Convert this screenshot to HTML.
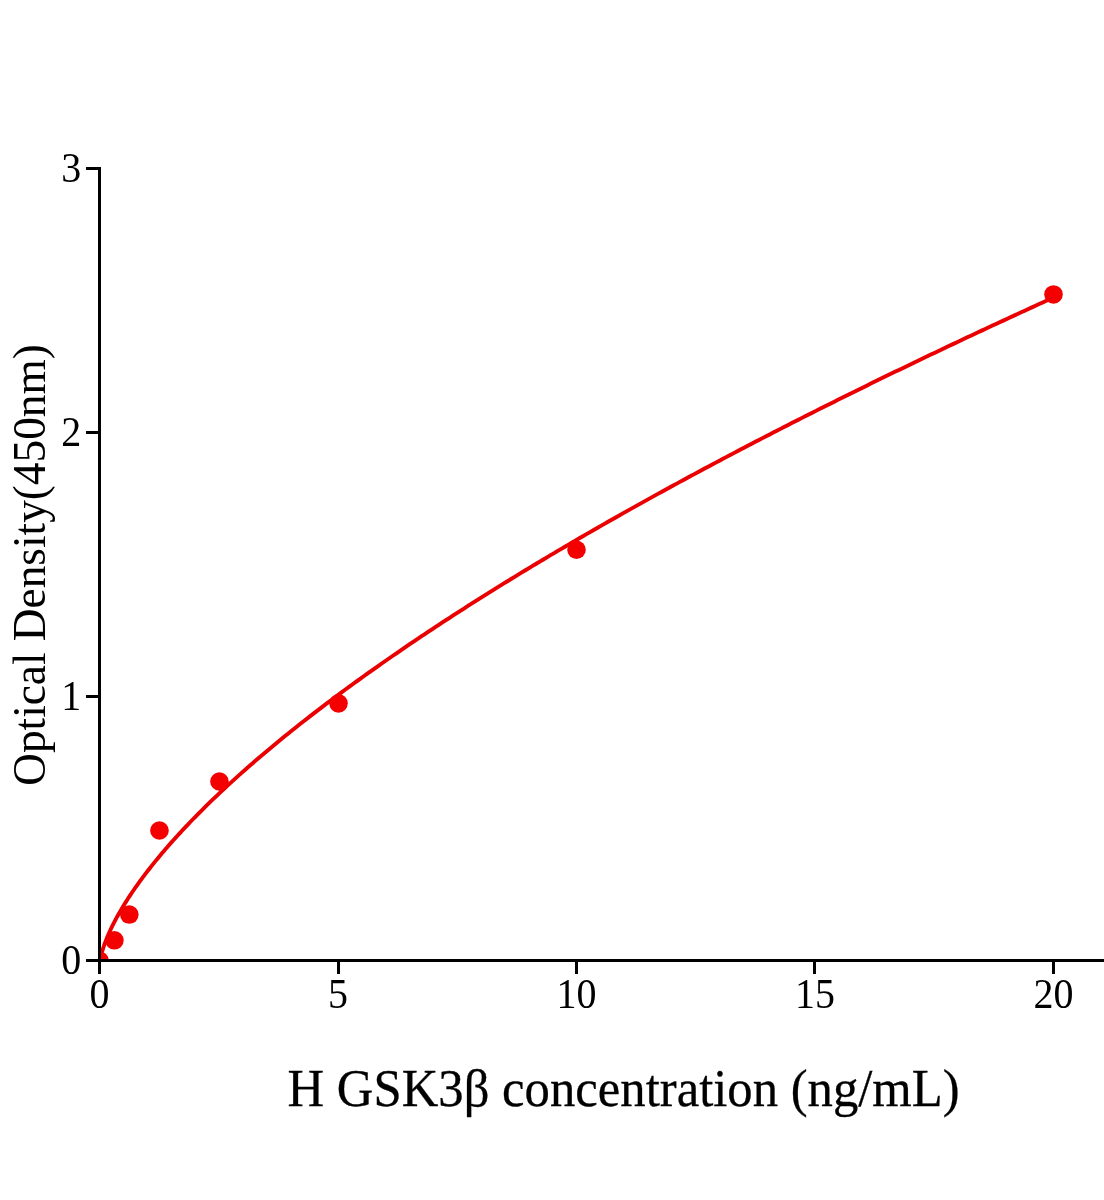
<!DOCTYPE html>
<html><head><meta charset="utf-8"><title>H GSK3β standard curve</title>
<style>
html,body{margin:0;padding:0;background:#fff;}
body{width:1104px;height:1200px;overflow:hidden;font-family:"Liberation Serif",serif;}
svg{display:block;will-change:transform;}
text{font-family:"Liberation Serif",serif;fill:#000;}
</style></head><body>
<svg width="1104" height="1200" viewBox="0 0 1104 1200">

<defs><clipPath id="plot"><rect x="99.5" y="0" width="1010" height="960.5"/></clipPath></defs>
<polyline clip-path="url(#plot)" fill="none" stroke="#ea0000" stroke-width="3.9" stroke-linejoin="round" stroke-linecap="butt" points="99.50,965.57 99.55,964.55 99.60,963.95 99.65,963.46 99.70,963.02 99.75,962.61 99.80,962.24 99.85,961.88 99.90,961.54 99.95,961.21 100.00,960.90 100.05,960.60 100.10,960.30 100.15,960.02 100.20,959.74 100.25,959.47 100.30,959.20 100.35,958.94 100.40,958.69 100.45,958.44 100.74,957.07 101.03,955.81 101.32,954.63 101.61,953.52 101.90,952.45 102.19,951.43 102.48,950.44 102.77,949.49 103.06,948.56 103.35,947.66 103.64,946.78 103.93,945.93 104.22,945.09 104.51,944.27 104.80,943.46 105.09,942.68 105.38,941.90 105.67,941.14 105.96,940.39 106.25,939.65 106.54,938.92 106.83,938.20 107.12,937.49 107.41,936.79 107.70,936.10 107.99,935.42 108.28,934.74 108.57,934.08 108.86,933.42 109.15,932.76 109.44,932.12 109.73,931.48 110.02,930.84 110.31,930.22 110.60,929.59 110.89,928.98 111.18,928.37 111.47,927.76 111.76,927.16 112.05,926.56 112.34,925.97 112.63,925.38 112.92,924.80 113.21,924.22 113.50,923.65 113.79,923.08 114.08,922.51 114.37,921.95 114.66,921.39 114.95,920.84 115.23,920.29 115.52,919.74 115.81,919.19 116.10,918.65 116.39,918.11 116.68,917.58 116.97,917.05 117.26,916.52 117.55,915.99 117.84,915.47 118.13,914.95 118.42,914.43 118.71,913.92 119.00,913.41 119.29,912.90 119.58,912.39 119.87,911.88 120.16,911.38 120.45,910.88 120.74,910.39 121.03,909.89 121.32,909.40 121.61,908.91 121.90,908.42 122.19,907.93 122.48,907.45 122.77,906.97 123.06,906.49 123.35,906.01 124.56,904.03 125.78,902.09 126.99,900.17 128.20,898.29 129.41,896.43 130.63,894.59 131.84,892.78 133.05,891.00 134.26,889.23 135.48,887.49 136.69,885.77 137.90,884.07 139.12,882.38 140.33,880.71 141.54,879.06 142.75,877.43 143.97,875.81 145.18,874.20 146.39,872.61 147.60,871.04 148.82,869.48 150.03,867.93 151.24,866.39 152.46,864.87 153.67,863.36 154.88,861.86 156.09,860.37 157.31,858.89 158.52,857.43 159.73,855.97 160.94,854.52 162.16,853.09 163.37,851.66 164.58,850.24 165.79,848.83 167.01,847.43 168.22,846.04 169.43,844.66 170.65,843.28 171.86,841.91 173.07,840.56 174.28,839.20 175.50,837.86 176.71,836.52 177.92,835.20 179.13,833.87 180.35,832.56 181.56,831.25 182.77,829.95 183.99,828.65 185.20,827.37 186.41,826.08 187.62,824.81 188.84,823.54 190.05,822.27 191.26,821.01 192.47,819.76 193.69,818.51 194.90,817.27 198.49,813.63 202.08,810.03 205.68,806.47 209.27,802.95 212.86,799.47 216.45,796.04 220.05,792.63 223.64,789.27 227.23,785.93 230.82,782.63 234.42,779.36 238.01,776.12 241.60,772.91 245.19,769.73 248.79,766.57 252.38,763.44 255.97,760.34 259.56,757.26 263.16,754.20 266.75,751.17 270.34,748.16 273.93,745.17 277.53,742.21 281.12,739.26 284.71,736.34 288.30,733.43 291.90,730.54 295.49,727.68 299.08,724.83 302.67,721.99 306.27,719.18 309.86,716.38 313.45,713.60 317.04,710.84 320.64,708.09 324.23,705.36 327.82,702.64 331.41,699.94 335.01,697.25 338.60,694.57 342.19,691.91 345.78,689.27 349.38,686.63 352.97,684.02 356.56,681.41 360.15,678.82 363.75,676.23 367.34,673.66 370.93,671.11 374.52,668.56 378.12,666.03 381.71,663.51 385.30,661.00 388.89,658.50 392.49,656.01 396.08,653.53 399.67,651.06 403.26,648.60 406.86,646.16 410.45,643.72 414.04,641.29 417.63,638.88 421.23,636.47 424.82,634.07 428.41,631.68 432.00,629.30 435.60,626.93 439.19,624.57 442.78,622.21 446.37,619.87 449.97,617.53 453.56,615.21 457.15,612.89 460.74,610.58 464.34,608.27 467.93,605.98 471.52,603.69 475.11,601.41 478.71,599.14 482.30,596.88 485.89,594.62 489.48,592.37 493.07,590.13 496.67,587.89 500.26,585.67 503.85,583.45 507.44,581.23 511.04,579.03 514.63,576.83 518.22,574.63 521.81,572.45 525.41,570.27 529.00,568.09 532.59,565.93 536.18,563.77 539.78,561.61 543.37,559.46 546.96,557.32 550.55,555.19 554.15,553.06 557.74,550.93 561.33,548.81 564.92,546.70 568.52,544.60 572.11,542.50 575.70,540.40 579.29,538.31 582.89,536.23 586.48,534.15 590.07,532.08 593.66,530.01 597.26,527.95 600.85,525.89 604.44,523.84 608.03,521.79 611.63,519.75 615.22,517.72 618.81,515.68 622.40,513.66 626.00,511.64 629.59,509.62 633.18,507.61 636.77,505.60 640.37,503.60 643.96,501.60 647.55,499.61 651.14,497.62 654.74,495.64 658.33,493.66 661.92,491.69 665.51,489.72 669.11,487.75 672.70,485.79 676.29,483.84 679.88,481.89 683.48,479.94 687.07,478.00 690.66,476.06 694.25,474.12 697.85,472.19 701.44,470.26 705.03,468.34 708.62,466.42 712.22,464.51 715.81,462.60 719.40,460.69 722.99,458.79 726.59,456.89 730.18,455.00 733.77,453.11 737.36,451.22 740.96,449.34 744.55,447.46 748.14,445.58 751.73,443.71 755.33,441.84 758.92,439.98 762.51,438.12 766.10,436.26 769.69,434.41 773.29,432.56 776.88,430.71 780.47,428.87 784.06,427.03 787.66,425.19 791.25,423.36 794.84,421.53 798.43,419.71 802.03,417.88 805.62,416.06 809.21,414.25 812.80,412.44 816.40,410.63 819.99,408.82 823.58,407.02 827.17,405.22 830.77,403.42 834.36,401.63 837.95,399.84 841.54,398.05 845.14,396.27 848.73,394.49 852.32,392.71 855.91,390.94 859.51,389.17 863.10,387.40 866.69,385.63 870.28,383.87 873.88,382.11 877.47,380.36 881.06,378.60 884.65,376.85 888.25,375.10 891.84,373.36 895.43,371.62 899.02,369.88 902.62,368.14 906.21,366.41 909.80,364.68 913.39,362.95 916.99,361.22 920.58,359.50 924.17,357.78 927.76,356.06 931.36,354.35 934.95,352.64 938.54,350.93 942.13,349.22 945.73,347.52 949.32,345.82 952.91,344.12 956.50,342.42 960.10,340.73 963.69,339.04 967.28,337.35 970.87,335.67 974.47,333.98 978.06,332.30 981.65,330.62 985.24,328.95 988.84,327.28 992.43,325.60 996.02,323.94 999.61,322.27 1003.21,320.61 1006.80,318.95 1010.39,317.29 1013.98,315.63 1017.58,313.98 1021.17,312.32 1024.76,310.68 1028.35,309.03 1031.95,307.38 1035.54,305.74 1039.13,304.10 1042.72,302.46 1046.32,300.83 1049.91,299.19 1053.50,297.56"/>
<g fill="#f40000" clip-path="url(#plot)">
<circle cx="99.50" cy="960.50" r="9.3"/>
<circle cx="114.41" cy="940.30" r="9.3"/>
<circle cx="129.31" cy="914.56" r="9.3"/>
<circle cx="159.47" cy="830.51" r="9.3"/>
<circle cx="219.45" cy="781.51" r="9.3"/>
<circle cx="338.50" cy="703.36" r="9.3"/>
<circle cx="576.50" cy="549.72" r="9.3"/>
<circle cx="1053.50" cy="294.43" r="9.3"/>
</g>
<g fill="#000" shape-rendering="crispEdges">
<rect x="98" y="167" width="3" height="795"/>
<rect x="98" y="959" width="1006" height="3"/>
<rect x="86" y="959" width="13" height="3"/>
<rect x="86" y="695" width="13" height="3"/>
<rect x="86" y="431" width="13" height="3"/>
<rect x="86" y="167" width="13" height="3"/>
<rect x="98" y="961" width="3" height="12.5"/>
<rect x="337" y="961" width="3" height="12.5"/>
<rect x="575" y="961" width="3" height="12.5"/>
<rect x="813" y="961" width="3" height="12.5"/>
<rect x="1052" y="961" width="3" height="12.5"/>
</g>
<text transform="translate(81.20,974.10) scale(0.945,1)" font-size="42.3" text-anchor="end">0</text>
<text transform="translate(81.20,710.10) scale(0.945,1)" font-size="42.3" text-anchor="end">1</text>
<text transform="translate(81.20,446.10) scale(0.945,1)" font-size="42.3" text-anchor="end">2</text>
<text transform="translate(81.20,182.10) scale(0.945,1)" font-size="42.3" text-anchor="end">3</text>
<text transform="translate(99.50,1007.60) scale(0.945,1)" font-size="42.3" text-anchor="middle">0</text>
<text transform="translate(338.00,1007.60) scale(0.945,1)" font-size="42.3" text-anchor="middle">5</text>
<text transform="translate(576.50,1007.60) scale(0.945,1)" font-size="42.3" text-anchor="middle">10</text>
<text transform="translate(815.00,1007.60) scale(0.945,1)" font-size="42.3" text-anchor="middle">15</text>
<text transform="translate(1053.50,1007.60) scale(0.945,1)" font-size="42.3" text-anchor="middle">20</text>
<text stroke="#000" stroke-width="0.3" transform="translate(623.60,1105.90) scale(0.94803738317757,1)" font-size="53.5" text-anchor="middle">H GSK3β concentration (ng/mL)</text>
<text transform="translate(45.20,565.00) rotate(-90) scale(0.9805194805194803,1)" font-size="46.2" text-anchor="middle">Optical Density(450nm)</text>
</svg></body></html>
